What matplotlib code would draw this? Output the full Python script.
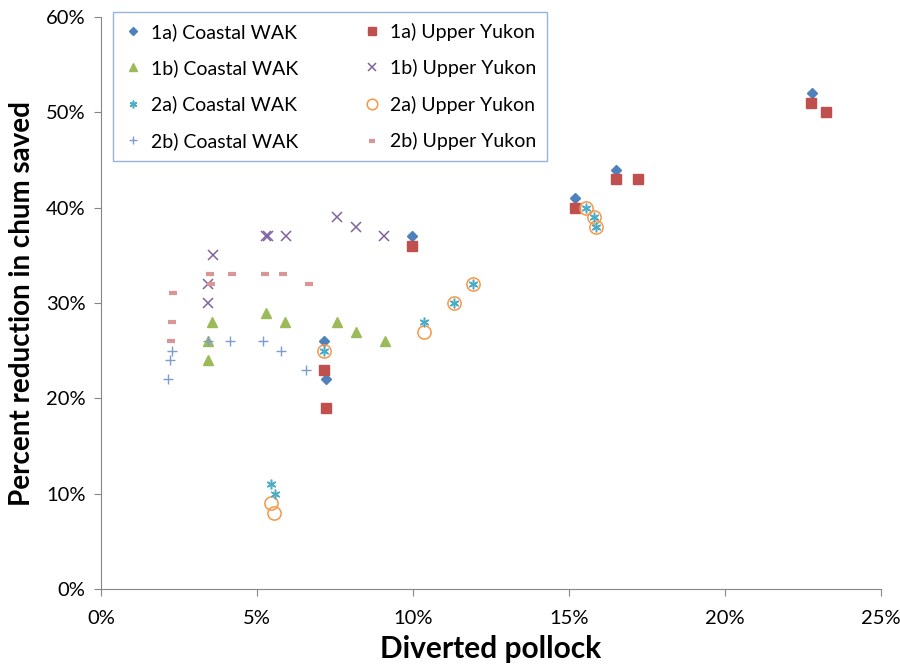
import matplotlib
matplotlib.use("Agg")
import matplotlib.pyplot as plt
from matplotlib.ticker import FuncFormatter

plt.rcParams['font.family'] = ['Lato', 'DejaVu Sans']

# series data: diverted pollock (%) and percent reduction in chum saved (%)
c1a_x = [7.15, 7.2, 9.97, 15.2, 16.5, 22.8]
c1a_y = [26, 22, 37, 41, 44, 52]
u1a_x = [7.15, 7.22, 9.97, 15.2, 16.5, 17.2, 22.75, 23.25]
u1a_y = [23, 19, 36, 40, 43, 43, 51, 50]

c1b_x = [3.43, 3.44, 3.57, 5.3, 5.9, 7.57, 8.16, 9.09]
c1b_y = [26, 24, 28, 29, 28, 28, 27, 26]
u1b_x = [3.43, 3.44, 3.59, 5.3, 5.34, 5.92, 7.57, 8.16, 9.07]
u1b_y = [32, 30, 35, 37, 37, 37, 39, 38, 37]

c2a_x = [5.44, 5.57, 7.15, 10.35, 11.33, 11.93, 15.55, 15.79, 15.88]
c2a_y = [11, 10, 25, 28, 30, 32, 40, 39, 38]
u2a_x = [5.44, 5.55, 7.15, 10.35, 11.33, 11.93, 15.55, 15.79, 15.88]
u2a_y = [9, 8, 25, 27, 30, 32, 40, 39, 38]

c2b_x = [2.16, 2.21, 2.26, 3.43, 4.14, 5.19, 5.77, 6.58]
c2b_y = [22, 24, 25, 26, 26, 26, 25, 23]
u2b_x = [2.24, 2.29, 2.32, 3.49, 3.54, 4.21, 5.26, 5.84, 6.67]
u2b_y = [26, 28, 31, 33, 32, 33, 33, 33, 32]

fig = plt.figure(figsize=(9, 6.68), dpi=100)
ax = fig.add_axes([101/900, 1-589/668, 780/900, 572/668])

h = {}
h['c1a'], = ax.plot(c1a_x, c1a_y, 'D', ls='none', color='#4F81BD', ms=5.2, label='1a) Coastal WAK')
h['u1a'], = ax.plot(u1a_x, u1a_y, 's', ls='none', color='#C0504D', ms=7, label='1a) Upper Yukon')
h['c1b'], = ax.plot(c1b_x, c1b_y, '^', ls='none', color='#9BBB59', ms=7.5, label='1b) Coastal WAK')
h['u1b'], = ax.plot(u1b_x, u1b_y, 'x', ls='none', color='#8064A2', ms=7, mew=1.1, label='1b) Upper Yukon')
h['u2a'], = ax.plot(u2a_x, u2a_y, 'o', ls='none', mfc='none', mec='#F79646', ms=9.5, mew=1.1, label='2a) Upper Yukon')
h['c2a'], = ax.plot(c2a_x, c2a_y, marker=(6, 2, 0), ls='none', color='#4BACC6', ms=7, mew=1.1, label='2a) Coastal WAK')
h['c2b'], = ax.plot(c2b_x, c2b_y, '+', ls='none', color='#7F9BD0', ms=7.5, mew=1.0, label='2b) Coastal WAK')
h['u2b'], = ax.plot(u2b_x, u2b_y, '_', ls='none', color='#D99694', ms=5.5, mew=3, label='2b) Upper Yukon')

ax.set_xlim(0, 25)
ax.set_ylim(0, 60)
ax.set_xticks(range(0, 26, 5))
ax.set_yticks(range(0, 61, 10))
pct = FuncFormatter(lambda v, p: f'{v:.0f}%')
ax.xaxis.set_major_formatter(pct)
ax.yaxis.set_major_formatter(pct)

for s in ['top', 'right']:
    ax.spines[s].set_visible(False)
for s in ['left', 'bottom']:
    ax.spines[s].set_color('#868686')
ax.tick_params(axis='both', direction='out', length=5, color='#868686', labelsize=14.5)
ax.tick_params(axis='x', pad=10)
ax.tick_params(axis='y', pad=6)

ax.set_xlabel('Diverted pollock', fontsize=21.5, fontweight='bold', labelpad=6)
ax.set_ylabel('Percent reduction in chum saved', fontsize=20, fontweight='bold', labelpad=8)

order = ['c1a', 'c1b', 'c2a', 'c2b', 'u1a', 'u1b', 'u2a', 'u2b']
leg = fig.legend([h[k] for k in order], [h[k].get_label() for k in order],
                 ncol=2, loc='upper left', bbox_to_anchor=(113/900, 1-12/668),
                 frameon=True, fancybox=False, fontsize=14, labelspacing=0.95,
                 handlelength=1.0, handletextpad=0.4, columnspacing=3.3,
                 borderpad=0.55, borderaxespad=0, markerscale=0.8)
leg.get_frame().set_edgecolor('#7DA0D0')
leg.get_frame().set_linewidth(1.0)

fig.savefig('out.png', dpi=100)
